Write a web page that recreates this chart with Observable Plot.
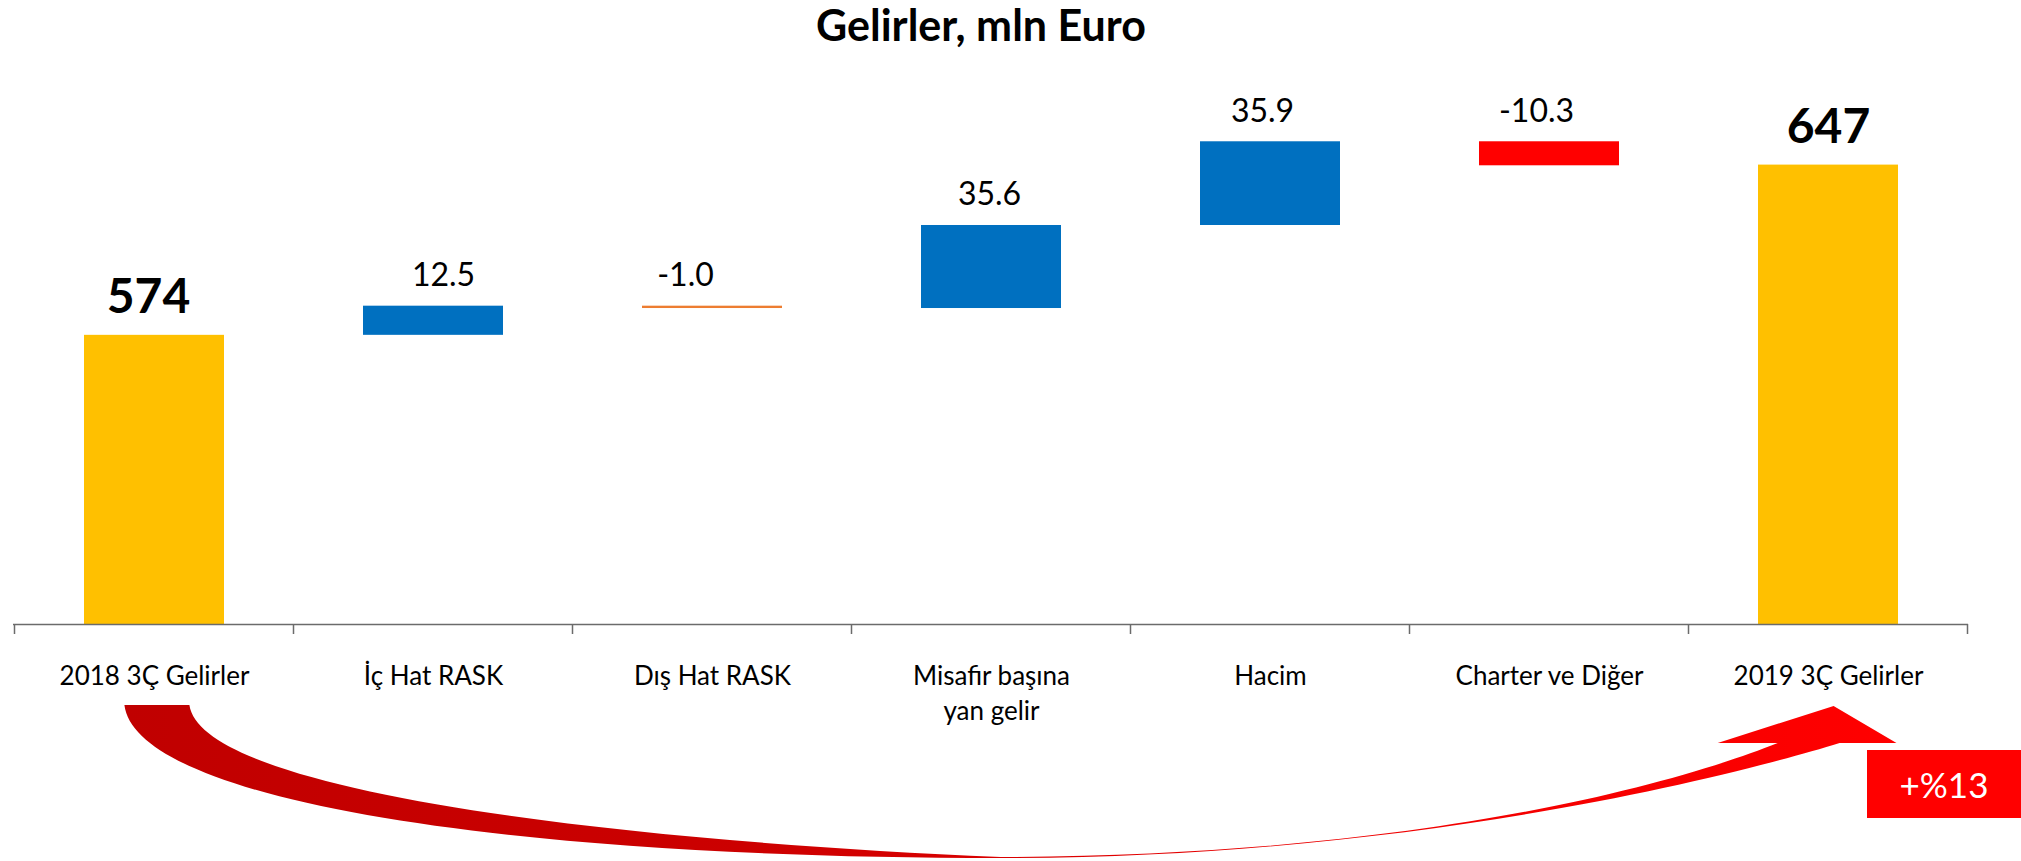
<!DOCTYPE html>
<html><head><meta charset="utf-8">
<script src="https://cdn.jsdelivr.net/npm/d3@7"></script>
<script src="https://cdn.jsdelivr.net/npm/@observablehq/plot@0.6"></script>
<style>
html,body{margin:0;padding:0;background:#fff;}
#wrap{position:relative;width:2021px;height:861px;overflow:hidden;font-family:Lato,sans-serif;}
#chart{position:absolute;left:0;top:0;}
#title{position:absolute;left:0;width:1962px;top:3px;text-align:center;font:700 43px/43px Lato,sans-serif;color:#000;}
#badge{position:absolute;left:1867px;top:750px;width:154px;height:68px;background:#FF0000;color:#fff;font:400 35px/68px Lato,sans-serif;text-align:center;}
</style></head><body>
<div id="wrap"><div id="chart"></div><div id="title"></div><div id="badge"></div></div>
<script>
// ---- data ----
const titleText = "Gelirler, mln Euro";
const categories = ["2018 3Ç Gelirler", "İç Hat RASK", "Dış Hat RASK", "Misafir başına\nyan gelir", "Hacim", "Charter ve Diğer", "2019 3Ç Gelirler"];
const values = [574, 12.5, -1.0, 35.6, 35.9, -10.3, 647];
const kinds = ["total", "delta", "delta", "delta", "delta", "delta", "total"];
const valueLabels = ["574", "12.5", "-1.0", "35.6", "35.9", "-10.3", "647"];
const growthLabel = "+%13";
const axisMin = 450, axisMax = 700;

// ---- styles (kept apart from data) ----
const fillByCategory = new Map([
  ["2018 3Ç Gelirler", "#FFC000"], ["İç Hat RASK", "#0070C0"], ["Dış Hat RASK", "#ED7D31"],
  ["Misafir başına\nyan gelir", "#0070C0"], ["Hacim", "#0070C0"], ["Charter ve Diğer", "#FF0000"],
  ["2019 3Ç Gelirler", "#FFC000"]
]);
// small horizontal nudges of the value labels, as placed in the original
const labelNudge = new Map([
  ["2018 3Ç Gelirler", -6], ["İç Hat RASK", 10], ["Dış Hat RASK", -27],
  ["Misafir başına\nyan gelir", -2], ["Hacim", -8], ["Charter ve Diğer", -13], ["2019 3Ç Gelirler", 0]
]);

document.getElementById("title").textContent = titleText;
document.getElementById("badge").textContent = growthLabel;

// waterfall table
let run = 0;
const rows = categories.map((c, i) => {
  const v = values[i];
  let y1, y2;
  if (kinds[i] === "total") { y1 = axisMin; y2 = v; run = v; }
  else { y1 = run; y2 = run + v; run = y2; }
  return {cat: c, value: v, kind: kinds[i], label: valueLabels[i], y1, y2, top: Math.max(y1, y2)};
});

const NS = "http://www.w3.org/2000/svg";

function boundaryTicks(index, scales) {
  const x = scales.x, y = scales.y;
  const bw = x.bandwidth ? x.bandwidth() : 0;
  const step = x.step ? x.step() : (x(categories[1]) - x(categories[0]));
  const y0 = y(axisMin);
  const g = document.createElementNS(NS, "g");
  for (let i = 0; i <= categories.length; i++) {
    const xb = i < categories.length
      ? x(categories[i]) + bw / 2 - step / 2
      : x(categories[categories.length - 1]) + bw / 2 + step / 2;
    const l = document.createElementNS(NS, "line");
    l.setAttribute("x1", xb); l.setAttribute("x2", xb);
    l.setAttribute("y1", y0); l.setAttribute("y2", y0 + 10);
    l.setAttribute("stroke", "#6b6b6b"); l.setAttribute("stroke-width", 1.5);
    g.appendChild(l);
  }
  return g;
}

function growthArrow(index, scales) {
  const x = scales.x, y = scales.y;
  const bw = x.bandwidth ? x.bandwidth() : 0;
  const xs = x(categories[0]) + bw / 2;
  const xe = x(categories[categories.length - 1]) + bw / 2;
  const y0 = y(axisMin);
  const refS = 152.6, refE = 1828.4;
  const px = v => xs + (v - refS) * (xe - xs) / (refE - refS);
  const py = v => y0 + (v - 624);
  const P = (a, b) => px(a).toFixed(1) + " " + py(b).toFixed(1);
  const d = `M ${P(123,705)} C ${P(135,800)}, ${P(500,858)}, ${P(1000,858)} ` +
            `C ${P(1400,858)}, ${P(1720,780)}, ${P(1840,743)} ` +
            `L ${P(1897,743)} L ${P(1834,706)} L ${P(1718,743)} L ${P(1778,743)} ` +
            `C ${P(1660,790)}, ${P(1400,856)}, ${P(1000,857)} ` +
            `C ${P(600,840)}, ${P(200,790)}, ${P(188,705)} Z`;
  const g = document.createElementNS(NS, "g");
  const defs = document.createElementNS(NS, "defs");
  const grad = document.createElementNS(NS, "linearGradient");
  grad.setAttribute("id", "arrowGrad");
  grad.setAttribute("gradientUnits", "userSpaceOnUse");
  grad.setAttribute("x1", px(123)); grad.setAttribute("x2", px(1897));
  grad.setAttribute("y1", 0); grad.setAttribute("y2", 0);
  [[0, "#C00000"], [0.35, "#CC0000"], [0.75, "#F20000"], [1, "#FF0000"]].forEach(([o, c]) => {
    const s = document.createElementNS(NS, "stop");
    s.setAttribute("offset", o); s.setAttribute("stop-color", c);
    grad.appendChild(s);
  });
  defs.appendChild(grad); g.appendChild(defs);
  const p = document.createElementNS(NS, "path");
  p.setAttribute("d", d); p.setAttribute("fill", "url(#arrowGrad)");
  g.appendChild(p);
  return g;
}

const valueLabelMarks = rows.map(r => r.kind === "total"
  ? Plot.text([r], {x: "cat", y: "top", text: "label", dy: -22, dx: labelNudge.get(r.cat) || 0, lineAnchor: "bottom", fontSize: 48, fontWeight: "bold", fill: "#000"})
  : Plot.text([r], {x: "cat", y: "top", text: "label", dy: -20, dx: labelNudge.get(r.cat) || 0, lineAnchor: "bottom", fontSize: 32, fill: "#000"}));

const plot = Plot.plot({
  width: 2021, height: 861,
  marginLeft: 13, marginRight: 53, marginTop: 41, marginBottom: 237,
  style: {fontFamily: "Lato, sans-serif", background: "white", color: "#000"},
  x: {domain: categories, paddingInner: 0.5, paddingOuter: 0.25, axis: null},
  y: {domain: [axisMin, axisMax], axis: null},
  marks: [
    Plot.barY(rows, {x: "cat", y1: "y1", y2: "y2", fill: d => fillByCategory.get(d.cat)}),
    Plot.ruleY([axisMin], {stroke: "#6b6b6b", strokeWidth: 1.5}),
    boundaryTicks,
    ...valueLabelMarks,
    Plot.text(rows, {x: "cat", y: () => axisMin, text: "cat", lineAnchor: "top", dy: 36, fontSize: 26, lineHeight: 1.33, fill: "#000"}),
    growthArrow
  ]
});
document.getElementById("chart").appendChild(plot);
</script>
</body></html>
